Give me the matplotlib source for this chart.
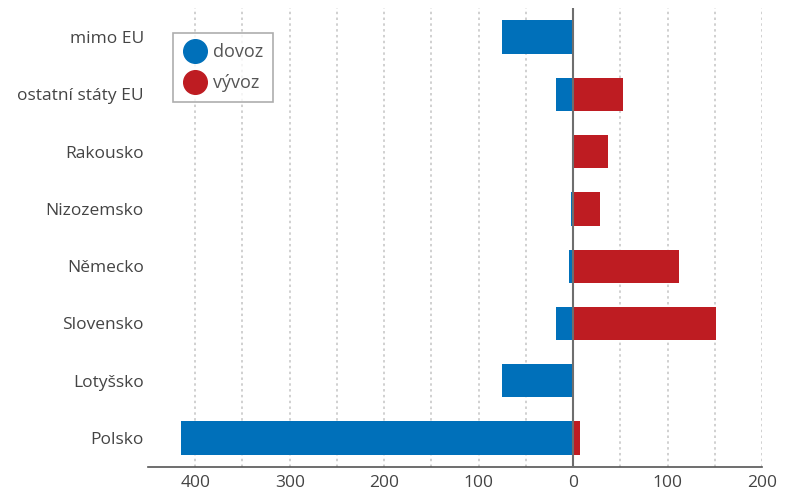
import matplotlib
matplotlib.use("Agg")
import matplotlib.pyplot as plt
from matplotlib.lines import Line2D

categories = ["mimo EU", "ostatní státy EU", "Rakousko", "Nizozemsko",
              "Německo", "Slovensko", "Lotyšsko", "Polsko"]
dovoz = [75, 18, 0, 2, 4.5, 18, 75.5, 415]
vyvoz = [0, 53, 37, 29, 112, 151, 0, 7]
xticks = [-400, -300, -200, -100, 0, 100, 200]
xticklabels = ["400", "300", "200", "100", "0", "100", "200"]

BLUE = "#0070BA"
RED = "#BE1C22"
TXT = "#444444"

plt.rcParams['font.family'] = ['Open Sans', 'DejaVu Sans']

fig = plt.figure(figsize=(7.87, 4.95), dpi=100)
ax = fig.add_axes([148/787, 1 - 466.7/495, (762-148)/787, (466.7-8.4)/495])

n = len(categories)
ypos = [n - 1 - i for i in range(n)]
h = 0.58
ax.barh(ypos, [-d for d in dovoz], height=h, color=BLUE, zorder=2)
ax.barh(ypos, vyvoz, height=h, color=RED, zorder=2)

ax.set_xlim(-450, 200)
ax.set_ylim(-0.5, n - 0.5)

for gx in range(-400, 201, 50):
    if gx == 0:
        continue
    ax.axvline(gx, color="#c4c4c4", lw=1.1, ls=(0, (1.6, 2.2)), zorder=1)
ax.axvline(0, color="#6e6e6e", lw=1.5, zorder=3)

ax.set_xticks(xticks)
ax.set_xticklabels(xticklabels)
ax.set_yticks(ypos)
ax.set_yticklabels(categories)
ax.tick_params(axis='both', length=0, labelsize=12.5, colors=TXT)
ax.tick_params(axis='x', pad=6)
ax.tick_params(axis='y', pad=3)

for s in ["left", "right", "top"]:
    ax.spines[s].set_visible(False)
ax.spines["bottom"].set_color("#555555")
ax.spines["bottom"].set_linewidth(1.2)

handles = [Line2D([], [], ls='none', marker='o', markersize=17, color=BLUE),
           Line2D([], [], ls='none', marker='o', markersize=17, color=RED)]
leg = ax.legend(handles, ["dovoz", "vývoz"], loc="upper left",
                bbox_to_anchor=((173-148)/614, 1 - (33-8.4)/458.3),
                fancybox=False, edgecolor="#999999", fontsize=13,
                handletextpad=0.35, labelspacing=0.75, borderpad=0.55,
                handlelength=1.3, labelcolor="#555555", borderaxespad=0)
leg.get_frame().set_linewidth(1.2)

fig.savefig("out.png", dpi=100)
